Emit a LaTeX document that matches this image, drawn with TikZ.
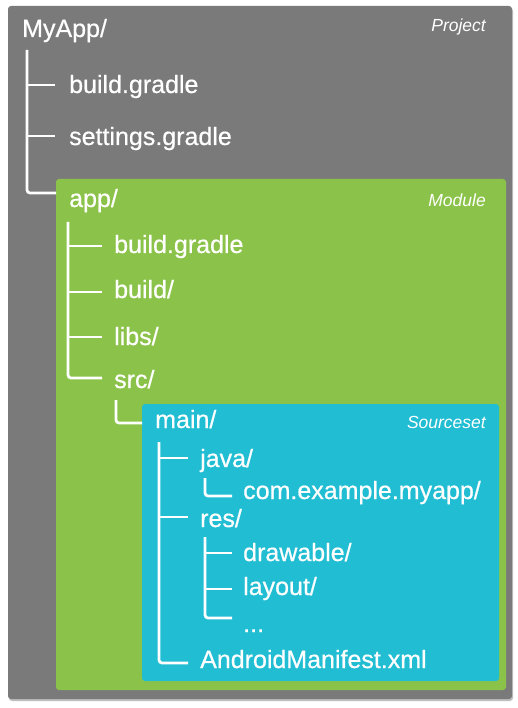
\documentclass[tikz,border=0pt]{standalone}
\usepackage{fontspec}
\setmainfont{Liberation Sans}
\newfontfamily\itemfont[FakeBold=0.6]{Liberation Sans}
\definecolor{projgray}{RGB}{122,122,122}
\definecolor{modgreen}{RGB}{139,195,74}
\definecolor{srcblue}{RGB}{33,189,211}
\tikzset{
  item/.style={anchor=base west, inner sep=0pt, text=white, font=\itemfont\fontsize{25}{28}\selectfont},
  tag/.style={anchor=base east, inner sep=0pt, text=white, font=\fontsize{17.5}{20}\selectfont\itshape},
  tree/.style={draw=white, line width=2.7pt, rounded corners=3pt, line cap=butt},
  panel/.style={rounded corners=3pt}
}
\begin{document}
\begin{tikzpicture}[x=1pt,y=-1pt]
\useasboundingbox (0,0) rectangle (518,708);
\fill[white] (0,0) rectangle (518,708);
% boxes
\fill[black!25, panel] (9,8) rectangle (513,701);
\fill[projgray, panel] (8,6) rectangle (512,699);
\fill[modgreen, panel] (56,179) rectangle (506,690);
\fill[srcblue, panel] (142,404) rectangle (499,681);
% labels
\node[tag] (tproj) at (486,32) {Project};
\node[tag] (tmod) at (486,207) {Module};
\node[tag] (tsrc) at (486,428) {Sourceset};
% items
\node[item] (myapp) at (22,37) {MyApp/};
\node[item] (pbg) at (69,93) {build.gradle};
\node[item] (psg) at (69,145) {settings.gradle};
\node[item] (app) at (69,207) {app/};
\node[item] (abg) at (114,253) {build.gradle};
\node[item] (abuild) at (114,298) {build/};
\node[item] (alibs) at (114,345) {libs/};
\node[item] (asrc) at (114,388) {src/};
\node[item] (main) at (155,428) {main/};
\node[item] (java) at (200,467) {java/};
\node[item] (pkg) at (243,499) {com.example.myapp/};
\node[item] (res) at (200,527) {res/};
\node[item] (draw) at (243,561) {drawable/};
\node[item] (lay) at (243,595) {layout/};
\node[item] (dots) at (243,632) {...};
\node[item] (man) at (200,668) {AndroidManifest.xml};
% tree coordinates
\coordinate (p0) at (27,50);
\coordinate (p1) at (55,85);
\coordinate (p2) at (55,136);
\coordinate (p3) at (56,193);
\coordinate (a0) at (68,222);
\coordinate (a1) at (102,246);
\coordinate (a2) at (102,292);
\coordinate (a3) at (102,337);
\coordinate (a4) at (102,378);
\coordinate (s0) at (116,400);
\coordinate (s1) at (142,423);
\coordinate (m0) at (159,442);
\coordinate (m1) at (188,458);
\coordinate (m2) at (188,517);
\coordinate (m3) at (188,663);
\coordinate (j0) at (205,478);
\coordinate (j1) at (232,496);
\coordinate (r0) at (205,537);
\coordinate (r1) at (232,553);
\coordinate (r2) at (232,589);
\coordinate (r3) at (232,618);
% trees
\draw[tree] (p0) |- (p3);
\draw[tree] (p0 |- p1) -- (p1);
\draw[tree] (p0 |- p2) -- (p2);
\draw[tree] (a0) |- (a4);
\draw[tree] (a0 |- a1) -- (a1);
\draw[tree] (a0 |- a2) -- (a2);
\draw[tree] (a0 |- a3) -- (a3);
\draw[tree] (s0) |- (s1);
\draw[tree] (m0) |- (m3);
\draw[tree] (m0 |- m1) -- (m1);
\draw[tree] (m0 |- m2) -- (m2);
\draw[tree] (j0) |- (j1);
\draw[tree] (r0) |- (r3);
\draw[tree] (r0 |- r1) -- (r1);
\draw[tree] (r0 |- r2) -- (r2);
\end{tikzpicture}
\end{document}
